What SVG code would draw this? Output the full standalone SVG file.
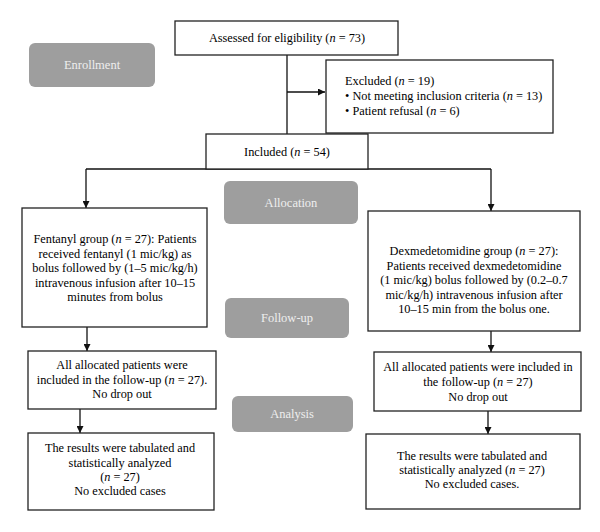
<svg xmlns="http://www.w3.org/2000/svg" width="600" height="532" viewBox="0 0 600 532">
<style>
.box{fill:#fff;stroke:#222;stroke-width:1.3}
.stage{fill:#9e9e9e}
.st{font-family:"Liberation Serif",serif;font-size:12.5px;fill:#eeeeee;text-anchor:middle}
.t{font-family:"Liberation Serif",serif;font-size:12.3px;fill:#000}
.c{text-anchor:middle}
.ln{fill:none;stroke:#111;stroke-width:1.3}
</style>
<defs>
<marker id="ah" viewBox="0 0 8 8" refX="8" refY="4" markerWidth="7" markerHeight="7" markerUnits="userSpaceOnUse" orient="auto">
<path d="M0,0 L8,4 L0,8 Z" fill="#111"/>
</marker>
</defs>
<rect width="600" height="532" fill="#fff"/>

<g id="enrollment"><rect class="stage" x="29" y="43" width="126" height="44" rx="6"/><text class="st" x="92" y="69">Enrollment</text></g>
<g id="allocation"><rect class="stage" x="224" y="181" width="134" height="43" rx="6"/><text class="st" x="291" y="207">Allocation</text></g>
<g id="followup"><rect class="stage" x="225" y="298" width="124" height="40" rx="6"/><text class="st" x="287" y="322">Follow-up</text></g>
<g id="analysis"><rect class="stage" x="232" y="396" width="121" height="36" rx="6"/><text class="st" x="292" y="418">Analysis</text></g>

<g id="connectors">
<path class="ln" d="M287,55 V134"/>
<path class="ln" d="M287,92 H325" marker-end="url(#ah)"/>
<path class="ln" d="M86,169 V208" marker-end="url(#ah)"/>
<path class="ln" d="M86,169 H491"/>
<path class="ln" d="M491,169 V211" marker-end="url(#ah)"/>
<path class="ln" d="M87,327 V351" marker-end="url(#ah)"/>
<path class="ln" d="M491,331 V352" marker-end="url(#ah)"/>
<path class="ln" d="M80,409 V433" marker-end="url(#ah)"/>
<path class="ln" d="M488,411 V434" marker-end="url(#ah)"/>
</g>

<g id="assessed"><rect class="box" x="175" y="21" width="223" height="34"/><text class="t c" x="287" y="42">Assessed for eligibility (<tspan font-style="italic">n</tspan> = 73)</text></g>

<g id="excluded"><rect class="box" x="326" y="60" width="227" height="73"/>
<text class="t" x="345" y="85">Excluded (<tspan font-style="italic">n</tspan> = 19)</text>
<text class="t" x="345" y="100">• Not meeting inclusion criteria (<tspan font-style="italic">n</tspan> = 13)</text>
<text class="t" x="345" y="115">• Patient refusal (<tspan font-style="italic">n</tspan> = 6)</text>
</g>

<g id="included"><rect class="box" x="206" y="134" width="162" height="35"/><text class="t c" x="287" y="156">Included (<tspan font-style="italic">n</tspan> = 54)</text></g>

<g id="fentanyl"><rect class="box" x="22" y="208" width="185" height="119"/>
<text class="t c" x="115" y="243">Fentanyl group (<tspan font-style="italic">n</tspan> = 27): Patients</text>
<text class="t c" x="115" y="257.5">received fentanyl (1 mic/kg) as</text>
<text class="t c" x="115" y="272">bolus followed by (1–5 mic/kg/h)</text>
<text class="t c" x="115" y="286.5">intravenous infusion after 10–15</text>
<text class="t c" x="115" y="301">minutes from bolus</text>
</g>

<g id="dex"><rect class="box" x="368" y="211" width="212" height="120"/>
<text class="t c" x="474" y="255">Dexmedetomidine group (<tspan font-style="italic">n</tspan> = 27):</text>
<text class="t c" x="474" y="269.5">Patients received dexmedetomidine</text>
<text class="t c" x="474" y="284">(1 mic/kg) bolus followed by (0.2–0.7</text>
<text class="t c" x="474" y="298.5">mic/kg/h) intravenous infusion after</text>
<text class="t c" x="474" y="313">10–15 min from the bolus one.</text>
</g>

<g id="follow-left"><rect class="box" x="28" y="351" width="188" height="58"/>
<text class="t c" x="122" y="369">All allocated patients were</text>
<text class="t c" x="122" y="384">included in the follow-up (<tspan font-style="italic">n</tspan> = 27).</text>
<text class="t c" x="122" y="398">No drop out</text>
</g>

<g id="follow-right"><rect class="box" x="374" y="352" width="207" height="59"/>
<text class="t c" x="478" y="371">All allocated patients were included in</text>
<text class="t c" x="478" y="386">the follow-up (<tspan font-style="italic">n</tspan> = 27)</text>
<text class="t c" x="478" y="401">No drop out</text>
</g>

<g id="analysis-left"><rect class="box" x="28" y="433" width="186" height="77"/>
<text class="t c" x="120" y="452">The results were tabulated and</text>
<text class="t c" x="120" y="467">statistically analyzed</text>
<text class="t c" x="120" y="481">(<tspan font-style="italic">n</tspan> = 27)</text>
<text class="t c" x="120" y="495">No excluded cases</text>
</g>

<g id="analysis-right"><rect class="box" x="366" y="434" width="214" height="75"/>
<text class="t c" x="472" y="460">The results were tabulated and</text>
<text class="t c" x="472" y="474">statistically analyzed (<tspan font-style="italic">n</tspan> = 27)</text>
<text class="t c" x="472" y="488">No excluded cases.</text>
</g>
</svg>
